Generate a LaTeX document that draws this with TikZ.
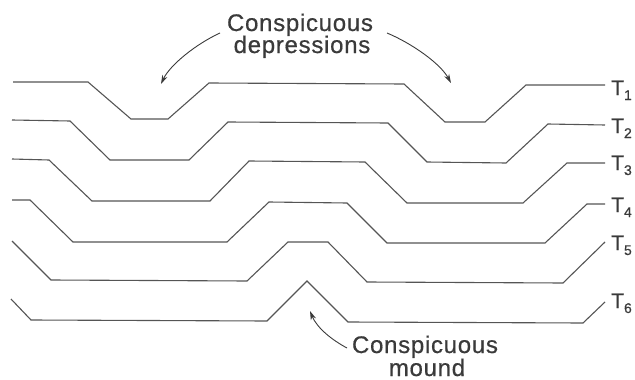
\documentclass[tikz,border=0pt]{standalone}
\usepackage{fontspec}
\setmainfont{Liberation Sans}
\newfontfamily\notefont[LetterSpace=3,FakeBold=0.6]{Liberation Sans}
\usepackage{tikz}
\usetikzlibrary{arrows.meta}
\usetikzlibrary{backgrounds,positioning}
\pgfdeclarelayer{edgelayer}
\pgfdeclarelayer{nodelayer}
\pgfsetlayers{background,edgelayer,nodelayer,main}
\definecolor{ink}{HTML}{3A3A3A}
\definecolor{profile}{HTML}{555555}
\tikzstyle{none}=[inner sep=0mm]
\tikzstyle{note}=[inner sep=0mm,text=ink,anchor=base,font=\notefont\fontsize{24}{24}\selectfont]
\tikzstyle{tlabel}=[inner sep=0mm,text=ink,anchor=base west,font=\notefont\fontsize{21}{21}\selectfont]
\tikzstyle{surface}=[draw=profile,line width=1.1pt,line join=miter]
\tikzstyle{pointer}=[draw=ink,line width=0.9pt,-{Stealth[length=9pt,width=5.5pt]}]
\newcommand{\tsub}[1]{T\raisebox{-5pt}{\fontsize{14}{14}\selectfont#1}}

\begin{document}
\begin{tikzpicture}[x=1pt,y=-1pt]
	\useasboundingbox (0,0) rectangle (635,380);
	\begin{pgfonlayer}{nodelayer}
		\node [style=note] (0) at (300,31) {Conspicuous};
		\node [style=note] (1) at (302,53) {depressions};
		\node [style=note] (2) at (425,353) {Conspicuous};
		\node [style=note] (3) at (427,376) {mound};
		\foreach \i/\y in {1/95,2/133,3/170,4/212,5/250,6/308}
			\node [style=tlabel] (t\i) at (611,\y) {\tsub{\i}};
		\coordinate (4) at (220,33);
		\coordinate (5) at (161,84);
		\coordinate (6) at (387,33);
		\coordinate (7) at (451,83);
		\coordinate (8) at (347,348);
		\coordinate (9) at (310,311);
	\end{pgfonlayer}
	\begin{pgfonlayer}{edgelayer}
		% layers T1 (top) to T6 (bottom)
		\draw[surface] (13,82) -- (88,82) -- (131,119) -- (168,119) -- (209,83) -- (404,84)
			-- (445,122) -- (485,122) -- (526,85) -- (605,85);
		\draw[surface] (12,120) -- (70,121) -- (110,160) -- (189,160) -- (228,122) -- (388,123)
			-- (427,162) -- (506,163) -- (548,124) -- (605,125);
		\draw[surface] (12,159) -- (49,160) -- (92,201) -- (210,201) -- (249,161) -- (365,162)
			-- (407,203) -- (523,203) -- (567,163) -- (605,163);
		\draw[surface] (12,200) -- (30,200) -- (73,242) -- (227,242) -- (269,202) -- (347,203)
			-- (387,243) -- (545,243) -- (587,204) -- (605,204);
		\draw[surface] (12,241) -- (51,280) -- (247,281) -- (288,242) -- (328,242)
			-- (367,282) -- (563,283) -- (605,242);
		\draw[surface] (11,299) -- (31,320) -- (267,321) -- (307,281)
			-- (348,322) -- (583,323) -- (605,302);
		% pointers
		\draw[pointer] (4) .. controls (196,44) and (170,65) .. (5);
		\draw[pointer] (6) .. controls (411,43) and (440,63) .. (7);
		\draw[pointer] (8) .. controls (332,340) and (317,328) .. (9);
	\end{pgfonlayer}
\end{tikzpicture}
\end{document}
